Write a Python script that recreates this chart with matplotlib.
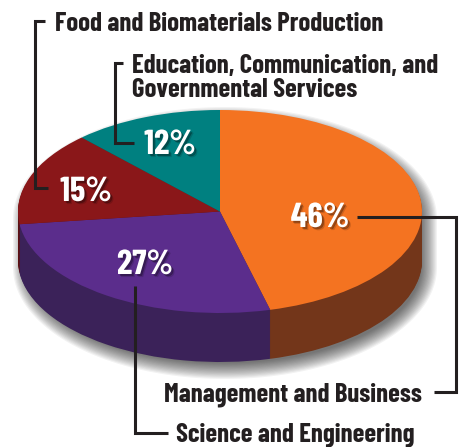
import numpy as np
import matplotlib
matplotlib.use("Agg")
import matplotlib.pyplot as plt
import matplotlib.patheffects as pe
from matplotlib.lines import Line2D
from matplotlib.patches import Polygon

plt.rcParams['font.family'] = ['Barlow Condensed', 'Liberation Sans', 'DejaVu Sans']

W, H = 462, 447
# pie geometry in pixels
CX, CY, A, B, DEPTH = 220.0, 211.5, 202.0, 101.5, 49

categories = ["Management and Business", "Science and Engineering",
              "Food and Biomaterials Production",
              "Education, Communication, and\nGovernmental Services"]
values = [46, 27, 15, 12]
top_colors = ["#f47321", "#5b2d8c", "#8a1719", "#008080"]
side_colors = ["#73361a", "#3b2259", "#5c1012", "#005555"]
label_pos = [(320, 218), (145, 265), (86, 192), (170, 145)]
name_pos = [(164, 395), (176, 435), (55, 24), (132, 78)]
leaders = [
    [(357, 216.5), (456, 216.5), (456, 392), (434, 392)],
    [(134.5, 286), (134.5, 433), (168, 433)],
    [(48, 188), (35, 188), (35, 21), (45, 21)],
    [(134, 143), (115, 143), (115, 63), (123, 63)],
]
INK = "#231f20"

fig = plt.figure(figsize=(W / 100, H / 100), dpi=100)
ax = fig.add_axes([0, 0, 1, 1])

def px(x, y):
    return (x - CX) / A, (CY - y) / B

def fx(x, y):
    return x / W, 1 - y / H

# soft shadow behind the whole disc
t = np.linspace(0, np.pi, 120)
for k in range(14):
    grow = 10 - k * 1.2
    a, b = A + grow, B + grow
    dx, dy = 5, 7
    upper = [px(CX + dx + a * np.cos(v), CY + dy - b * np.sin(v)) for v in t]
    lower = [px(CX + dx - a * np.cos(v), CY + dy + DEPTH + b * np.sin(v)) for v in t]
    ax.add_patch(Polygon(upper + lower, closed=True, fc="black", ec="none", alpha=0.05, zorder=1))

# side wall, stacked pies from the bottom up
for d in np.arange(DEPTH, 0, -1):
    wedges, _ = ax.pie(values, colors=side_colors, startangle=90, counterclock=False,
                       center=(0, -d / B), radius=1, wedgeprops={"zorder": 2, "linewidth": 0})

wedges, _ = ax.pie(values, colors=top_colors, startangle=90, counterclock=False,
                   center=(0, 0), radius=1, wedgeprops={"zorder": 3, "linewidth": 0})

ax.set_aspect("auto")
ax.set_xlim(px(0, 0)[0], px(W, 0)[0])
ax.set_ylim(px(0, H)[1], px(0, 0)[1])
ax.axis("off")

for pts in leaders:
    xs, ys = zip(*[fx(*p) for p in pts])
    fig.add_artist(Line2D(xs, ys, color=INK, lw=2.2, solid_joinstyle="miter",
                          solid_capstyle="butt", zorder=5))

for name, (x, y) in zip(categories, name_pos):
    fx_, fy_ = fx(x, y)
    fig.text(fx_, fy_, name, color=INK, fontsize=19.3, fontweight="bold",
             ha="left", va="center", linespacing=0.95, zorder=6)

glow = [pe.SimplePatchShadow(offset=(2.2, -2.2), shadow_rgbFace="black", alpha=0.15),
        pe.SimplePatchShadow(offset=(1.4, -1.4), shadow_rgbFace="black", alpha=0.3),
        pe.Normal()]
for v, (x, y) in zip(values, label_pos):
    lx, ly = fx(x, y)
    fig.text(lx, ly, "%d%%" % v, color="white", fontsize=25, fontweight="bold",
             ha="center", va="center", zorder=7, path_effects=glow)

fig.savefig("out.png", dpi=100)
